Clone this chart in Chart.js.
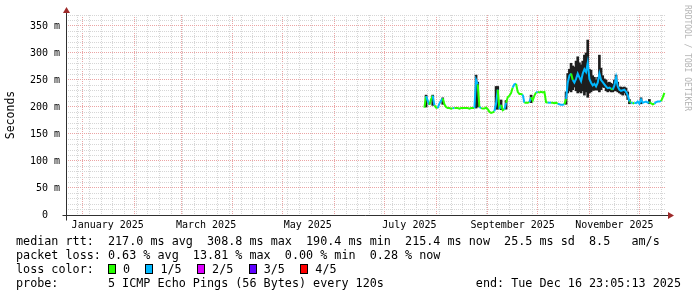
<!DOCTYPE html>
<html>
<head>
<meta charset="utf-8">
<script src="https://cdn.jsdelivr.net/npm/chart.js@4"></script>
<style>
  body { margin: 0; background: #fff; }
  #wrap { position: relative; width: 697px; height: 297px; overflow: hidden; font-family: "DejaVu Sans Mono", monospace; color: #000; }
  #wrap canvas { position: absolute; left: 0; top: 0; }
  .row { position: absolute; left: 16px; font-size: 11.75px; line-height: 14px; white-space: pre; }
  .box { display: inline-block; width: 6px; height: 8px; border: 1px solid #000; margin-right: 7px; vertical-align: -1px; }
  .gap { margin-right: 15.4px; }
  #mark { position: absolute; left: 692px; top: 5px; transform-origin: 0 0; transform: rotate(90deg);
          font-size: 8px; line-height: 10px; color: #b4b4b4; white-space: pre; }
</style>
</head>
<body>
<div id="wrap">
  <canvas id="chart" width="697" height="297"></canvas>
  <div class="row" style="top:234px">median rtt:  217.0 ms avg  308.8 ms max  190.4 ms min  215.4 ms now  25.5 ms sd  8.5   am/s</div>
  <div class="row" style="top:248px">packet loss: 0.63 % avg  13.81 % max  0.00 % min  0.28 % now</div>
  <div class="row" style="top:262px">loss color:  <span class="box" style="background:#26ff00"></span><span class="gap">0</span><span class="box" style="background:#00b8ff"></span><span class="gap">1/5</span><span class="box" style="background:#dd00ff"></span><span class="gap">2/5</span><span class="box" style="background:#5e00ff"></span><span class="gap">3/5</span><span class="box" style="background:#ff0000"></span>4/5</div>
  <div class="row" style="top:276px">probe:       5 ICMP Echo Pings (56 Bytes) every 120s</div>
  <div class="row" style="top:276px;left:auto;right:16px">end: Tue Dec 16 23:05:13 2025</div>
  <div id="mark">RRDTOOL / TOBI OETIKER</div>
</div>
<script>
// x values are days since 1 Jan 2025; median values in ms, one per day from firstDay
const firstDay = 205;
const median = [
  199, 220, 212, 204, 214, 221, 203, 199, 198, 206,
  212, 216, 205, 200, 198, 198, 197, 198, 198, 198,
  198, 197, 198, 198, 198, 198, 198, 197, 198, 198,
  198, 250, 242, 200, 198, 197, 197, 199, 196, 191,
  189, 190, 192, 206, 232, 196, 204, 194, 196, 208,
  218, 221, 226, 236, 242, 243, 228, 224, 224, 223,
  208, 208, 208, 209, 218, 212, 221, 227, 228, 227,
  228, 227, 228, 209, 208, 208, 208, 208, 207, 208,
  206, 205, 204, 204, 205, 215, 245, 258, 262, 250,
  245, 252, 262, 255, 248, 262, 270, 265, 282, 252,
  245, 240, 243, 238, 245, 262, 250, 246, 242, 238,
  235, 236, 234, 232, 240, 255, 238, 232, 230, 231,
  232, 228, 222, 210, 209, 206, 208, 207, 210, 206,
  214, 208, 209, 210, 208, 209, 207, 205, 206, 209,
  210, 210, 211, 218, 226
];
// lost pings out of 5 for each median value
const loss = [
  0, 0, 1, 1, 0, 0, 1, 0, 0, 1,
  1, 1, 0, 0, 0, 0, 0, 0, 1, 0,
  0, 0, 0, 0, 0, 0, 0, 0, 0, 0,
  0, 1, 1, 0, 1, 0, 0, 0, 0, 0,
  0, 0, 0, 1, 1, 0, 1, 0, 0, 1,
  0, 0, 0, 0, 1, 1, 0, 0, 0, 0,
  1, 0, 0, 0, 1, 0, 0, 0, 1, 0,
  0, 0, 0, 0, 0, 1, 1, 0, 0, 0,
  0, 1, 1, 1, 1, 0, 1, 1, 1, 0,
  1, 1, 1, 1, 1, 1, 1, 1, 1, 1,
  1, 1, 1, 1, 1, 1, 1, 1, 1, 1,
  1, 1, 1, 0, 1, 1, 1, 1, 1, 1,
  1, 1, 1, 1, 0, 1, 0, 1, 1, 1,
  1, 1, 1, 1, 1, 1, 0, 0, 0, 1,
  1, 1, 1, 0, 0
];
// smoke (ping spread) where it shows
const smokeDays = [206, 210, 216, 236, 237, 248, 249, 251, 254, 269,
  290, 291, 292, 293, 294, 295, 296, 297, 298, 299,
  300, 301, 302, 303, 304, 305, 306, 307, 308, 309,
  310, 311, 312, 313, 314, 315, 316, 317, 318, 319,
  320, 321, 322, 323, 324, 325, 326, 327, 328, 335, 340];
const smokeLo = [200, 203, 205, 198, 200, 196, 196, 195, 196, 208,
  205, 226, 230, 228, 232, 237, 230, 226, 228, 226,
  230, 222, 228, 218, 226, 228, 231, 231, 232, 231,
  228, 232, 237, 236, 230, 228, 230, 228, 228, 230,
  230, 228, 226, 224, 222, 226, 222, 214, 206, 206, 206];
const smokeHi = [222, 222, 217, 259, 246, 238, 238, 213, 212, 222,
  228, 262, 270, 281, 276, 274, 285, 293, 282, 278,
  285, 296, 300, 324, 270, 268, 258, 255, 250, 255,
  296, 272, 258, 252, 250, 245, 246, 244, 242, 250,
  259, 246, 237, 237, 236, 237, 235, 228, 214, 217, 214];

const lossColors = ['#26ff00', '#00b8ff', '#dd00ff', '#5e00ff', '#ff0000'];

const monthStarts = [0, 31, 59, 90, 120, 151, 181, 212, 243, 273, 304, 334];
const labelDays = [15, 74, 135, 196, 258, 319];
const labelText = ['January 2025', 'March 2025', 'May 2025', 'July 2025', 'September 2025', 'November 2025'];

const minorCol = '#d6d6d6';
const majorCol = '#eba4a4';

const days = median.map((_, i) => firstDay + i);

const axisArrows = {
  id: 'axisArrows',
  afterDatasetsDraw(chart) {
    const { ctx, chartArea: a } = chart;
    const y0 = Math.round(chart.scales.y.getPixelForValue(0)) + 0.5;
    const x0 = Math.round(a.left) + 0.5;
    ctx.save();
    ctx.strokeStyle = '#303030';
    ctx.lineWidth = 1;
    ctx.beginPath();
    ctx.moveTo(x0 - 4, y0); ctx.lineTo(a.right + 3, y0);
    ctx.moveTo(x0, y0 + 5); ctx.lineTo(x0, a.top - 3);
    ctx.stroke();
    ctx.fillStyle = '#9e2a2a';
    ctx.beginPath();
    ctx.moveTo(a.right + 8, y0); ctx.lineTo(a.right + 2, y0 - 3.5); ctx.lineTo(a.right + 2, y0 + 3.5);
    ctx.closePath(); ctx.fill();
    ctx.beginPath();
    ctx.moveTo(x0, a.top - 8); ctx.lineTo(x0 - 3.5, a.top - 2); ctx.lineTo(x0 + 3.5, a.top - 2);
    ctx.closePath(); ctx.fill();
    ctx.restore();
  }
};

new Chart(document.getElementById('chart'), {
  type: 'bar',
  data: {
    datasets: [
      {
        type: 'line',
        data: days.map((d, i) => ({ x: d, y: median[i] })),
        borderWidth: 2,
        pointRadius: 0,
        borderColor: lossColors[0],
        segment: { borderColor: c => lossColors[loss[c.p1DataIndex]] },
        order: 0
      },
      {
        type: 'bar',
        data: smokeDays.map((d, i) => ({ x: d, y: [smokeLo[i], smokeHi[i]] })),
        backgroundColor: '#1e1e1e',
        borderWidth: 0,
        barThickness: 2,
        grouped: false,
        order: 1
      }
    ]
  },
  options: {
    responsive: false,
    animation: false,
    events: [],
    layout: { padding: { top: 15, right: 31, left: 0, bottom: 0 } },
    plugins: { legend: { display: false }, tooltip: { enabled: false } },
    scales: {
      x: {
        type: 'linear',
        min: -10.04,
        max: 349.96,
        bounds: 'data',
        offset: false,
        afterBuildTicks: s => {
          const t = [];
          for (let d = -3; d <= 349; d += 7) t.push({ value: d, kind: 'minor' });
          monthStarts.forEach(d => t.push({ value: d, kind: 'major' }));
          labelDays.forEach(d => t.push({ value: d, kind: 'label' }));
          t.sort((a, b) => a.value - b.value);
          s.ticks = t;
        },
        afterFit: s => { s.height = 82; },
        grid: {
          offset: false,
          drawTicks: false,
          color: c => c.tick.kind === 'label' ? 'rgba(0,0,0,0)' : (c.tick.kind === 'major' ? majorCol : minorCol)
        },
        border: { display: false, dash: [1, 1] },
        ticks: {
          autoSkip: false,
          maxRotation: 0,
          padding: 4,
          color: '#000',
          font: { family: 'DejaVu Sans Mono', size: 10 },
          callback: (v, i, t) => {
            if (t[i].kind !== 'label') return '';
            return labelText[labelDays.indexOf(v)];
          }
        }
      },
      y: {
        min: 0,
        max: 370.37,
        bounds: 'data',
        afterFit: s => { s.width = 66; },
        grid: {
          drawTicks: false,
          color: c => (c.tick.value % 50 === 0 ? majorCol : minorCol)
        },
        border: { display: false, dash: [1, 1] },
        title: {
          display: true,
          text: 'Seconds',
          color: '#000',
          font: { family: 'DejaVu Sans Mono', size: 11.5 }
        },
        ticks: {
          stepSize: 10,
          includeBounds: false,
          autoSkip: false,
          padding: 6,
          color: '#000',
          font: { family: 'DejaVu Sans Mono', size: 10 },
          callback: v => (v === 0 ? '0  ' : (v % 50 === 0 ? v + ' m' : ''))
        }
      }
    }
  },
  plugins: [axisArrows]
});
</script>
</body>
</html>
